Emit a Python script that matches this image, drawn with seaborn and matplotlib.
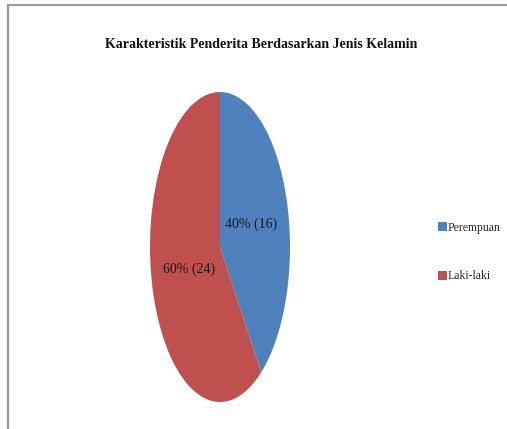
import matplotlib
matplotlib.use("Agg")
import matplotlib.pyplot as plt
import seaborn as sns
from matplotlib.patches import Rectangle
from matplotlib.lines import Line2D

sns.set_theme(style="white")
plt.rcParams['font.family'] = ['Liberation Serif', 'DejaVu Serif']

title = "Karakteristik Penderita Berdasarkan Jenis Kelamin"
categories = ["Perempuan", "Laki-laki"]
counts = [16, 24]
colors = ["#4F81BD", "#C0504D"]

W, H = 507, 429
fig = plt.figure(figsize=(W / 100, H / 100), dpi=100)
fig.patch.set_facecolor("white")

# chart border (top and left visible)
fig.add_artist(Line2D([7.5 / W, 7.5 / W], [0, 1 - 4.5 / H], transform=fig.transFigure,
                      color="#9a9a9a", lw=1.6))
fig.add_artist(Line2D([7.5 / W, 1], [1 - 4.5 / H, 1 - 4.5 / H], transform=fig.transFigure,
                      color="#9a9a9a", lw=1.6))

# pie axes (stretched ellipse)
cx, cy, rx, ry = 220, 247, 70, 155
ax = fig.add_axes([(cx - rx) / W, 1 - (cy + ry) / H, 2 * rx / W, 2 * ry / H])
total = sum(counts)
wedges, texts, autotexts = ax.pie(
    counts, colors=colors, startangle=90, counterclock=False,
    autopct=lambda p: f"{p:.0f}% ({round(p * total / 100)})",
    pctdistance=0.47, wedgeprops=dict(linewidth=0),
    textprops=dict(fontsize=10, color="#1a1a1a"))
ax.set_aspect("auto")
ax.set_xlim(-1, 1)
ax.set_ylim(-1, 1)
ax.axis("off")

fig.text(261 / W, 1 - 45 / H, title, ha="center", va="center",
         fontsize=10, fontweight="bold", color="#111111")

handles = [Rectangle((0, 0), 1, 1, facecolor=c, edgecolor="none") for c in colors]
fig.legend(handles, categories, loc="center left",
           bbox_to_anchor=(432 / W, 1 - 252 / H), frameon=False,
           fontsize=8.5, handlelength=0.75, handleheight=0.75, handletextpad=0.1,
           labelspacing=3.1, borderpad=0)

fig.savefig("out.png", dpi=100, facecolor="white")
